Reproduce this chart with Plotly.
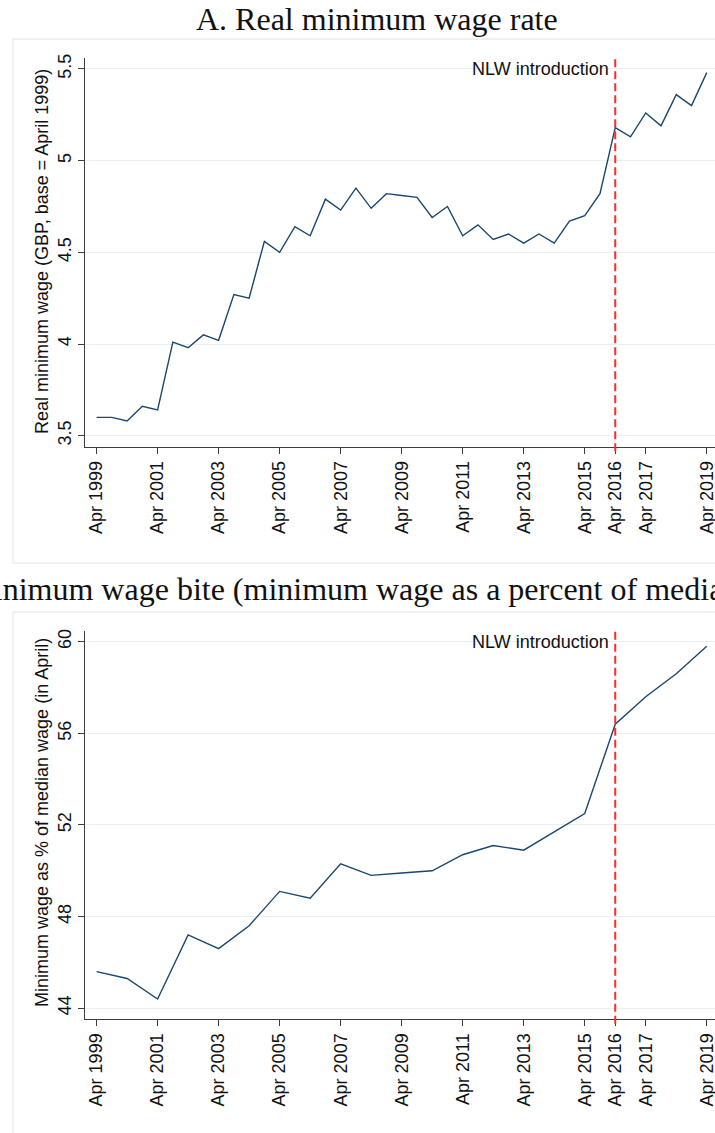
"""Real minimum wage and minimum wage bite, UK 1999-2019."""

import plotly.graph_objects as go

W, H = 715, 1133

# panel A: semi-annual (April / October), decimal years
years_a = [1999.0, 1999.5, 2000.0, 2000.5, 2001.0, 2001.5, 2002.0, 2002.5, 2003.0, 2003.5,
           2004.0, 2004.5, 2005.0, 2005.5, 2006.0, 2006.5, 2007.0, 2007.5, 2008.0, 2008.5,
           2009.0, 2009.5, 2010.0, 2010.5, 2011.0, 2011.5, 2012.0, 2012.5, 2013.0, 2013.5,
           2014.0, 2014.5, 2015.0, 2015.5, 2016.0, 2016.5, 2017.0, 2017.5, 2018.0, 2018.5,
           2019.0]
real_wage = [3.60, 3.60, 3.58, 3.66, 3.64, 4.01, 3.98, 4.05, 4.02, 4.27,
             4.25, 4.56, 4.50, 4.64, 4.59, 4.79, 4.73, 4.85, 4.74, 4.82,
             4.81, 4.80, 4.69, 4.75, 4.59, 4.65, 4.57, 4.60, 4.55, 4.60,
             4.55, 4.67, 4.70, 4.82, 5.18, 5.13, 5.26, 5.19, 5.36, 5.30,
             5.48]

# panel B: annual, April
years_b = [1999, 2000, 2001, 2002, 2003, 2004, 2005, 2006, 2007, 2008,
           2009, 2010, 2011, 2012, 2013, 2014, 2015, 2016, 2017, 2018, 2019]
wage_bite = [45.6, 45.3, 44.4, 47.2, 46.6, 47.6, 49.1, 48.8, 50.3, 49.8,
             49.9, 50.0, 50.7, 51.1, 50.9, 51.7, 52.5, 56.4, 57.6, 58.6, 59.8]

x_ticks = [1999, 2001, 2003, 2005, 2007, 2009, 2011, 2013, 2015, 2016, 2017, 2019]
x_labels = ["Apr 1999", "Apr 2001", "Apr 2003", "Apr 2005", "Apr 2007", "Apr 2009",
            "Apr 2011", "Apr 2013", "Apr 2015", "Apr 2016", "Apr 2017", "Apr 2019"]
y_ticks_a = [3.5, 4, 4.5, 5, 5.5]
y_ticks_b = [44, 48, 52, 56, 60]
nlw_year = 2016

NAVY = "#1a476f"
AXIS = "#3c3c3c"
GRID = "#e9f0f3"
SANS = "Liberation Sans, Arial, sans-serif"
SERIF = "Liberation Serif, Times New Roman, serif"
FS = 18


def px_x(p):
    return p / W


def px_y(p):
    return 1 - p / H


fig = go.Figure()
fig.add_trace(go.Scatter(x=years_a, y=real_wage, mode="lines", xaxis="x", yaxis="y",
                         line=dict(color=NAVY, width=1.4), showlegend=False))
fig.add_trace(go.Scatter(x=years_b, y=wage_bite, mode="lines", xaxis="x2", yaxis="y2",
                         line=dict(color=NAVY, width=1.4), showlegend=False))

xcommon = dict(range=[1998.63, 2019.27], tickvals=x_ticks, ticktext=x_labels, tickangle=-90,
               showgrid=False, zeroline=False, showline=True, linecolor=AXIS, linewidth=1.3,
               ticks="outside", ticklen=6, tickcolor=AXIS, tickwidth=1.2,
               ticklabeloverflow="allow",
               tickfont=dict(family=SANS, size=FS, color="#111"), automargin=False)
ycommon = dict(showgrid=True, gridcolor=GRID, gridwidth=1.2, zeroline=False, showline=True,
               linecolor=AXIS, linewidth=1.3, ticks="outside", ticklen=6, tickcolor=AXIS,
               tickwidth=1.2, tickangle=-90, tickfont=dict(family=SANS, size=FS, color="#111"),
               automargin=False)

fig.update_layout(
    width=W, height=H, margin=dict(l=0, r=0, t=0, b=0),
    paper_bgcolor="white", plot_bgcolor="white",
    xaxis=dict(domain=[px_x(85.3), 1], anchor="y", **xcommon),
    yaxis=dict(domain=[px_y(446.7), px_y(58.3)], anchor="x", range=[3.44, 5.558],
               tickvals=y_ticks_a, **ycommon),
    xaxis2=dict(domain=[px_x(85.3), 1], anchor="y2", **xcommon),
    yaxis2=dict(domain=[px_y(1019), px_y(630.7)], anchor="x2", range=[43.53, 60.48],
                tickvals=y_ticks_b, **ycommon),
)

# faint outlines of the graph regions
for top, bottom in [(39, 563), (612, H + 5)]:
    fig.add_shape(type="rect", xref="paper", yref="paper", x0=px_x(13), x1=1.02,
                  y0=px_y(bottom), y1=px_y(top), line=dict(color="#e4e4e4", width=1),
                  layer="below")

for xa, ya, ytop in [("x", "y", 5.5), ("x2", "y2", 60)]:
    fig.add_shape(type="line", xref=xa, yref=ya + " domain", x0=nlw_year, x1=nlw_year,
                  y0=-0.012, y1=1, line=dict(color="#ff2b2b", width=2, dash="8px,4px"))
    fig.add_annotation(x=nlw_year, y=ytop, xref=xa, yref=ya, text="NLW introduction",
                       showarrow=False, xanchor="right", yanchor="middle", xshift=-4,
                       font=dict(family=SANS, size=FS, color="#111"))

titles = [("A. Real minimum wage rate", 19),
          ("B. Minimum wage bite (minimum wage as a percent of median wage)", 589)]
for text, ypx in titles:
    fig.add_annotation(x=px_x(377), y=px_y(ypx), xref="paper", yref="paper", text=text,
                       showarrow=False, xanchor="center", yanchor="middle",
                       font=dict(family=SERIF, size=32, color="#111"))

ytitles = [("Real minimum wage (GBP, base = April 1999)", 252),
           ("Minimum wage as % of median wage (in April)", 823)]
for text, ypx in ytitles:
    fig.add_annotation(x=px_x(42), y=px_y(ypx), xref="paper", yref="paper", text=text,
                       textangle=-90, showarrow=False, xanchor="center", yanchor="middle",
                       font=dict(family=SANS, size=FS, color="#111"))

fig.write_html("out.html", config={"displayModeBar": False},
               post_script="document.body.style.margin = '0';")
